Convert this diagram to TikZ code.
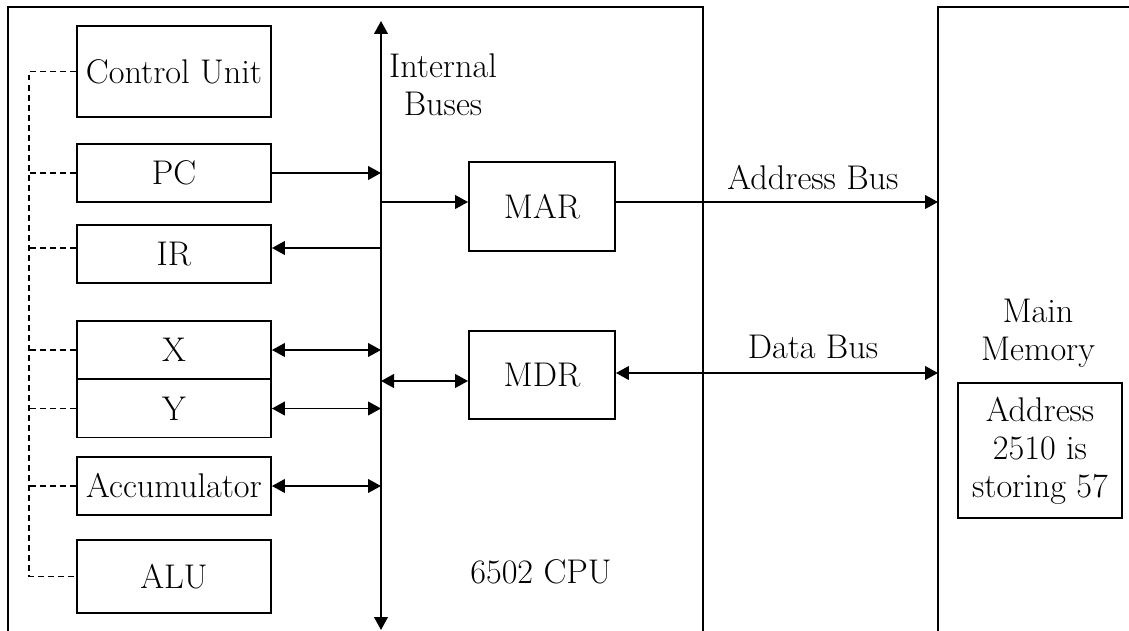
\documentclass[tikz,border=0pt]{standalone}
\usepackage{tikz}
\usetikzlibrary{arrows.meta,calc}

\begin{document}
\begin{tikzpicture}[
      x=0.02cm, y=-0.02cm,
      font=\fontsize{19.5}{21.6}\selectfont,
      line width=1.1pt,
      >={Triangle[length=7.4pt,width=7.8pt]},
      reg/.style={draw, minimum width=3.88cm, minimum height=1.16cm, inner sep=0pt},
      unit/.style={draw, minimum width=2.92cm, minimum height=1.77cm, inner sep=0pt},
      lbl/.style={inner sep=0pt, align=center},
      ctl/.style={dash pattern=on 3.4pt off 2.3pt}
  ]
    \useasboundingbox (0,0) rectangle (1129,631);
    % CPU and memory frames, open at the bottom
    \draw (8,640) -- (8,7) -- (703,7) -- (703,640);
    \draw (938,640) -- (938,7) -- (1140,7);
    \coordinate (mem) at (938,7);

    % registers
    \node[reg, minimum height=1.82cm] (cu) at (174,71.5) {Control Unit};
    \node[reg] (pc) at (174,173) {PC};
    \node[reg] (ir) at (174,254) {IR};
    \node[reg] (xr) at (174,350) {X};
    \node[reg] (yr) at (174,408.5) {Y};
    \node[reg] (acc) at (174,486) {Accumulator};
    \node[reg, minimum height=1.46cm] (alu) at (174,576.5) {ALU};

    % internal bus
    \coordinate (bustop) at (381,21);
    \coordinate (busbot) at (381,630);
    \draw[<->] (bustop) -- (busbot);
    \node[lbl] (intbus) at (443,85) {Internal\\Buses};

    % control lines
    \coordinate (ctl) at (29,69);
    \draw[ctl] (cu.west) -- (cu.west -| ctl) |- (alu.west);
    \foreach \r in {pc,xr,yr,acc}
      \draw[ctl] (\r.west) -- (\r.west -| ctl);
    \draw[ctl] ($(ir.west)+(0,-6)$) -- ($(ir.west -| ctl)+(0,-6)$);

    % register <-> bus
    \draw[->] (pc.east) -- (pc.east -| bustop);
    \draw[->] ($(ir.east -| bustop)+(0,-6)$) -- ($(ir.east)+(0,-6)$);
    \foreach \r in {xr,yr,acc}
      \draw[<->] (\r.east) -- (\r.east -| bustop);

    % MAR, MDR and the system buses
    \node[unit] (mar) at (542,206.5) {MAR};
    \node[unit] (mdr) at (542,375) {MDR};
    \draw[->] ($(mar.west -| bustop)+(0,-4.5)$) -- ($(mar.west)+(0,-4.5)$);
    \draw[->] ($(mar.east)+(0,-4.5)$) -- ($(mar.east -| mem)+(0,-4.5)$);
    \draw[<->] ($(mdr.west -| bustop)+(0,6)$) -- ($(mdr.west)+(0,6)$);
    \draw[<->] ($(mdr.east)+(0,-2)$) -- ($(mdr.east -| mem)+(0,-2)$);
    \node[lbl] (abus) at (813,178) {Address Bus};
    \node[lbl] (dbus) at (813,347) {Data Bus};
    \node[lbl] (cpu) at (541,571.5) {6502 CPU};

    % memory
    \node[lbl] (mainmem) at (1038,333) {Main\\Memory};
    \node[draw, minimum width=3.28cm, minimum height=2.7cm, align=center, inner sep=0pt] (cell) at (1040,450.5) {Address\\2510 is\\storing 57};
\end{tikzpicture}
\end{document}
